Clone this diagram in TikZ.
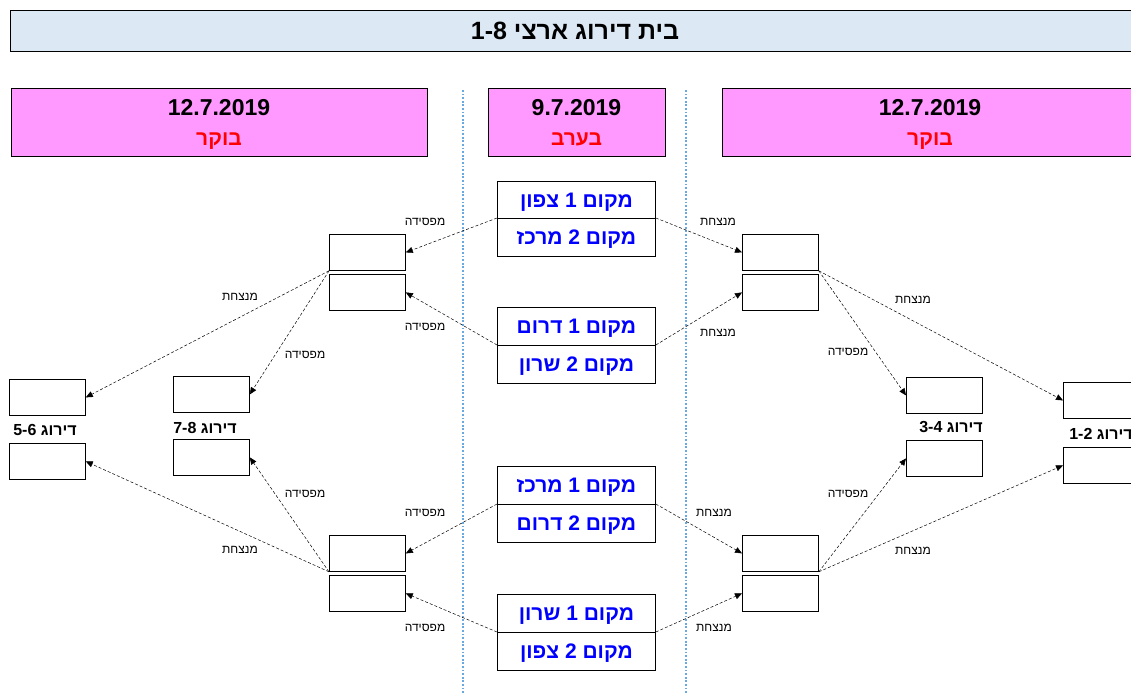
\documentclass[tikz,border=0pt]{standalone}
\usepackage{fontspec}
\setmainfont{Liberation Sans}
\newfontfamily\hebfont[Script=Hebrew]{Liberation Sans}
\TeXXeTstate=1
\usetikzlibrary{arrows.meta}
\definecolor{pinkc}{HTML}{FF99FF}
\definecolor{titlec}{HTML}{DDE8F5}
\definecolor{sepc}{HTML}{6AA8E0}
\tikzset{
 slot/.style={draw, line width=0.8pt, fill=white, minimum width=76pt, minimum height=36pt, inner sep=0pt, anchor=north west},
 match/.style={draw, line width=0.8pt, fill=white, minimum width=158pt, minimum height=38pt, inner sep=0pt, anchor=north west, font=\hebfont\bfseries\fontsize{21}{25}\selectfont, text=blue, text height=15pt, text depth=0pt},
 hdr/.style={draw, fill=pinkc, line width=0.8pt, anchor=north west, inner sep=0pt, minimum height=68pt},
 datet/.style={font=\bfseries\fontsize{23}{27}\selectfont},
 partt/.style={font=\hebfont\bfseries\fontsize{21}{24}\selectfont, text=red, text height=14pt, text depth=0pt},
 conn/.style={densely dashed, line width=0.5pt, -{Triangle[length=7pt,width=6pt]}},
 lbl/.style={font=\hebfont\fontsize{12}{14}\selectfont},
 rank/.style={font=\hebfont\bfseries\fontsize{16}{18}\selectfont},
 sep/.style={sepc, line width=1.8pt, dash pattern=on 1.8pt off 1.8pt},
}
\newcommand{\rtl}[1]{\beginR #1\endR}
\begin{document}
\begin{tikzpicture}[x=1pt,y=-1pt]
\useasboundingbox (0,0) rectangle (1131,693);
% title
\node[draw, fill=titlec, line width=0.8pt, anchor=north west, minimum width=1135pt, minimum height=41pt, inner sep=0pt] (title) at (10,10) {};
\node[font=\hebfont\bfseries\fontsize{25}{28}\selectfont] (titletext) at (575,31) {\rtl{בית דירוג ארצי \beginL1-8\endL}};
% headers
\node[hdr, minimum width=416pt] (hL) at (11,88) {};
\node[hdr, minimum width=177pt] (hM) at (488,88) {};
\node[hdr, minimum width=416pt] (hR) at (722,88) {};
\node[datet] (dL) at (219,108) {12.7.2019};
\node[partt] (pL) at (219,138) {\rtl{בוקר}};
\node[datet] (dM) at (576.5,108) {9.7.2019};
\node[partt] (pM) at (576.5,138) {\rtl{בערב}};
\node[datet] (dR) at (930,108) {12.7.2019};
\node[partt] (pR) at (930,138) {\rtl{בוקר}};
% separators
\coordinate (s1a) at (463,90); \coordinate (s1b) at (463,693);
\coordinate (s2a) at (686,90); \coordinate (s2b) at (686,693);
\draw[sep] (s1a) -- (s1b);
\draw[sep] (s2a) -- (s2b);
% matches
\node[match] (m1a) at (497,181) {\rtl{מקום 1 צפון}};
\node[match] (m1b) at (497,218) {\rtl{מקום 2 מרכז}};
\node[match] (m2a) at (497,307) {\rtl{מקום 1 דרום}};
\node[match] (m2b) at (497,345) {\rtl{מקום 2 שרון}};
\node[match] (m3a) at (497,466) {\rtl{מקום 1 מרכז}};
\node[match] (m3b) at (497,504) {\rtl{מקום 2 דרום}};
\node[match] (m4a) at (497,594) {\rtl{מקום 1 שרון}};
\node[match] (m4b) at (497,632) {\rtl{מקום 2 צפון}};
% semifinal slots
\node[slot] (a1) at (329,234) {};
\node[slot] (a2) at (329,274) {};
\node[slot] (b1) at (329,535) {};
\node[slot] (b2) at (329,575) {};
\node[slot] (c1) at (742,234) {};
\node[slot] (c2) at (742,274) {};
\node[slot] (d1) at (742,535) {};
\node[slot] (d2) at (742,575) {};
% final slots
\node[slot] (f56a) at (9,379) {};
\node[slot] (f56b) at (9,443) {};
\node[slot] (f78a) at (173,376) {};
\node[slot] (f78b) at (173,439) {};
\node[slot] (f34a) at (906,377) {};
\node[slot] (f34b) at (906,440) {};
\node[slot] (f12a) at (1063,382) {};
\node[slot] (f12b) at (1063,447) {};
% rank labels
\node[rank] (r56) at (45,430) {\rtl{דירוג \beginL5-6\endL}};
\node[rank] (r78) at (205,428) {\rtl{דירוג \beginL7-8\endL}};
\node[rank] (r34) at (951,427) {\rtl{דירוג \beginL3-4\endL}};
\node[rank] (r12) at (1101,434) {\rtl{דירוג \beginL1-2\endL}};
% connectors: matches to semifinals
\draw[conn] (m1b.north west) -- (a1.east);
\draw[conn] (m2b.north west) -- (a2.east);
\draw[conn] (m1b.north east) -- (c1.west);
\draw[conn] (m2b.north east) -- (c2.west);
\draw[conn] (m3b.north west) -- (b1.east);
\draw[conn] (m4b.north west) -- (b2.east);
\draw[conn] (m3b.north east) -- (d1.west);
\draw[conn] (m4b.north east) -- (d2.west);
% semifinals to finals
\draw[conn] (a1.south west) -- (f56a.east);
\draw[conn] (a1.south west) -- (f78a.east);
\draw[conn] (b1.south west) -- (f56b.east);
\draw[conn] (b1.south west) -- (f78b.east);
\draw[conn] (c1.south east) -- (f12a.west);
\draw[conn] (c1.south east) -- (f34a.west);
\draw[conn] (d1.south east) -- (f12b.west);
\draw[conn] (d1.south east) -- (f34b.west);
% connector labels
\node[lbl] (l1) at (425,222) {\rtl{מפסידה}};
\node[lbl] (l2) at (425,327) {\rtl{מפסידה}};
\node[lbl] (l3) at (718,222) {\rtl{מנצחת}};
\node[lbl] (l4) at (718,333) {\rtl{מנצחת}};
\node[lbl] (l5) at (425,513) {\rtl{מפסידה}};
\node[lbl] (l6) at (425,628) {\rtl{מפסידה}};
\node[lbl] (l7) at (714,513) {\rtl{מנצחת}};
\node[lbl] (l8) at (714,628) {\rtl{מנצחת}};
\node[lbl] (l9) at (240,297) {\rtl{מנצחת}};
\node[lbl] (l10) at (305,355) {\rtl{מפסידה}};
\node[lbl] (l11) at (240,550) {\rtl{מנצחת}};
\node[lbl] (l12) at (305,494) {\rtl{מפסידה}};
\node[lbl] (l13) at (913,300) {\rtl{מנצחת}};
\node[lbl] (l14) at (848,352) {\rtl{מפסידה}};
\node[lbl] (l15) at (913,551) {\rtl{מנצחת}};
\node[lbl] (l16) at (848,494) {\rtl{מפסידה}};
\end{tikzpicture}
\end{document}
